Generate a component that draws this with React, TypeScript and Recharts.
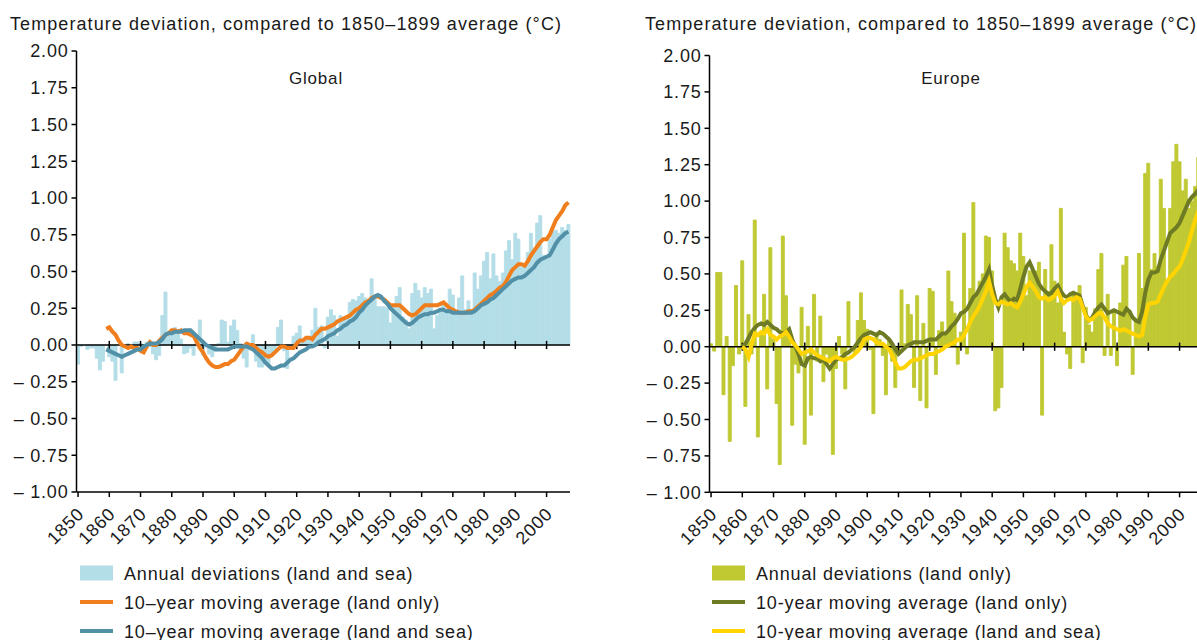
import React from 'react';
import { ComposedChart, Bar, Line, XAxis, YAxis, ReferenceLine } from 'recharts';

// categories: one band per year, 1850-2007
const FIRST_YEAR = 1850;
const LAST_YEAR = 2007;
const years: number[] = [];
for (let y = FIRST_YEAR; y <= LAST_YEAR; y++) years.push(y);

const yTicks = [-1, -0.75, -0.5, -0.25, 0, 0.25, 0.5, 0.75, 1, 1.25, 1.5, 1.75, 2];
const decadeMarks = [1860, 1870, 1880, 1890, 1900, 1910, 1920, 1930, 1940, 1950, 1960, 1970, 1980, 1990, 2000];

// Global, annual deviations (land and sea), 1850-2007
const globalAnnual = [
  -0.13, -0.01, 0.0, -0.03, -0.02, -0.02, -0.09, -0.17, -0.11, 0.0,
  -0.08, -0.11, -0.24, 0.0, -0.19, 0.0, 0.01, -0.01, 0.02, 0.02,
  0.01, -0.01, 0.02, -0.01, -0.06, -0.1, -0.07, 0.2, 0.36, 0.06,
  0.07, 0.12, 0.08, 0.04, -0.06, -0.05, -0.02, -0.07, 0.02, 0.17,
  -0.07, 0.0, -0.06, -0.08, -0.04, 0.01, 0.17, 0.16, 0.02, 0.13,
  0.17, 0.1, 0.01, -0.09, -0.15, 0.01, 0.07, -0.11, -0.15, -0.15,
  -0.12, -0.14, -0.05, -0.05, 0.12, 0.17, -0.04, -0.16, -0.02, 0.06,
  0.08, 0.13, 0.04, 0.05, 0.04, 0.1, 0.25, 0.12, 0.13, -0.02,
  0.19, 0.24, 0.2, 0.06, 0.2, 0.17, 0.19, 0.29, 0.31, 0.3,
  0.33, 0.35, 0.32, 0.31, 0.45, 0.32, 0.26, 0.26, 0.26, 0.25,
  0.15, 0.27, 0.33, 0.39, 0.19, 0.17, 0.11, 0.35, 0.42, 0.37,
  0.32, 0.39, 0.35, 0.38, 0.11, 0.2, 0.25, 0.29, 0.24, 0.38,
  0.34, 0.22, 0.32, 0.47, 0.24, 0.3, 0.21, 0.49, 0.38, 0.47,
  0.57, 0.63, 0.45, 0.62, 0.47, 0.43, 0.49, 0.64, 0.71, 0.58,
  0.76, 0.72, 0.53, 0.54, 0.63, 0.76, 0.66, 0.83, 0.88, 0.61,
  0.59, 0.72, 0.77, 0.78, 0.76, 0.8, 0.78, 0.82,
];

// Global, 10-year moving average (land only), 1859-2007
const globalLandMA = [
  0.11,
  0.12, 0.09, 0.07, 0.03, 0.0, -0.01, -0.02, -0.01, -0.02, -0.02,
  -0.04, -0.05, -0.01, 0.02, 0.0, 0.0, 0.03, 0.05, 0.07, 0.08,
  0.1, 0.1, 0.09, 0.1, 0.08, 0.08, 0.07, 0.06, 0.02, -0.02,
  -0.05, -0.09, -0.12, -0.14, -0.15, -0.15, -0.14, -0.13, -0.13, -0.11,
  -0.1, -0.07, -0.04, -0.01, 0.01, 0.0, 0.0, -0.02, -0.04, -0.05,
  -0.07, -0.08, -0.07, -0.05, -0.03, -0.01, -0.01, -0.02, -0.02, -0.02,
  0.01, 0.03, 0.03, 0.05, 0.05, 0.04, 0.07, 0.09, 0.11, 0.11,
  0.12, 0.13, 0.14, 0.16, 0.17, 0.18, 0.19, 0.2, 0.22, 0.24,
  0.25, 0.27, 0.29, 0.3, 0.32, 0.33, 0.33, 0.32, 0.31, 0.29,
  0.27, 0.27, 0.27, 0.27, 0.25, 0.23, 0.21, 0.2, 0.21, 0.23,
  0.25, 0.27, 0.27, 0.27, 0.27, 0.27, 0.28, 0.29, 0.27, 0.25,
  0.24, 0.23, 0.22, 0.22, 0.22, 0.23, 0.23, 0.24, 0.26, 0.28,
  0.3, 0.32, 0.34, 0.35, 0.37, 0.39, 0.4, 0.43, 0.47, 0.51,
  0.53, 0.55, 0.55, 0.54, 0.57, 0.61, 0.64, 0.67, 0.7, 0.72,
  0.72, 0.75, 0.8, 0.85, 0.88, 0.91, 0.95, 0.97,
];

// Global, 10-year moving average (land and sea), 1859-2007
const globalSeaMA = [
  -0.03,
  -0.04, -0.05, -0.06, -0.07, -0.08, -0.07, -0.06, -0.05, -0.04, -0.03,
  -0.03, -0.01, 0.0, 0.01, 0.01, 0.01, 0.02, 0.04, 0.07, 0.08,
  0.08, 0.09, 0.09, 0.09, 0.1, 0.1, 0.1, 0.08, 0.06, 0.04,
  0.02, 0.0, -0.01, -0.02, -0.03, -0.03, -0.03, -0.03, -0.03, -0.02,
  -0.01, -0.01, -0.01, -0.01, -0.01, -0.02, -0.03, -0.05, -0.07, -0.09,
  -0.12, -0.14, -0.16, -0.16, -0.15, -0.14, -0.14, -0.12, -0.1, -0.09,
  -0.07, -0.05, -0.04, -0.03, -0.01, -0.01, 0.0, 0.02, 0.03, 0.04,
  0.06, 0.07, 0.08, 0.1, 0.11, 0.13, 0.14, 0.16, 0.17, 0.19,
  0.22, 0.24, 0.27, 0.29, 0.31, 0.33, 0.34, 0.33, 0.3, 0.28,
  0.25, 0.23, 0.21, 0.19, 0.17, 0.15, 0.14, 0.15, 0.17, 0.19,
  0.2, 0.21, 0.21, 0.22, 0.22, 0.23, 0.24, 0.24, 0.23, 0.23,
  0.22, 0.22, 0.22, 0.22, 0.22, 0.22, 0.22, 0.23, 0.25, 0.27,
  0.28, 0.29, 0.31, 0.32, 0.34, 0.36, 0.38, 0.4, 0.42, 0.44,
  0.45, 0.46, 0.46, 0.47, 0.49, 0.51, 0.53, 0.56, 0.58, 0.59,
  0.6, 0.61, 0.65, 0.69, 0.72, 0.74, 0.76, 0.77,
];

// Europe, annual deviations (land only), 1850-2007
const europeAnnual = [
  0.02, -0.03, 0.51, 0.51, -0.33, 0.07, -0.65, -0.13, 0.42, -0.05,
  0.59, -0.41, 0.22, -0.05, 0.87, -0.62, 0.1, 0.36, -0.29, 0.68,
  0.05, -0.39, -0.81, 0.76, 0.35, 0.05, -0.54, -0.12, -0.18, 0.27,
  -0.67, 0.14, -0.47, 0.36, -0.1, 0.21, -0.24, -0.05, -0.1, -0.74,
  -0.15, 0.07, -0.05, -0.29, 0.31, -0.02, -0.04, 0.18, 0.37, 0.18,
  0.12, -0.02, -0.46, 0.09, 0.05, -0.06, -0.33, 0.04, -0.1, -0.28,
  -0.05, 0.39, 0.02, 0.29, 0.22, -0.28, 0.35, -0.37, 0.16, -0.42,
  0.4, 0.38, -0.19, 0.11, 0.17, 0.08, 0.52, 0.31, 0.23, -0.12,
  0.1, 0.78, -0.05, 0.4, 0.99, 0.36, 0.45, 0.5, 0.76, 0.75,
  0.52, -0.44, -0.42, -0.28, 0.78, 0.68, 0.59, 0.57, 0.52, 0.78,
  0.62, 0.35, 0.52, 0.52, 0.52, 0.58, -0.47, 0.53, 0.38, 0.7,
  0.45, 0.3, 0.95, 0.1, -0.05, -0.15, 0.36, 0.37, 0.42, -0.11,
  0.27, 0.15, 0.1, 0.26, 0.53, 0.64, -0.06, 0.36, -0.06, 0.24,
  -0.13, 0.3, 0.56, 0.62, 0.25, -0.19, 0.18, 0.64, 0.4, 1.19,
  1.26, 0.53, 0.64, 0.55, 1.15, 0.95, 0.45, 0.95, 1.27, 1.39,
  1.27, 1.07, 1.15, 0.95, 1.0, 1.1, 1.3, 1.25,
];

// Europe, 10-year moving average (land only), 1860-2007
const europeLandMA = [
  0.0, 0.02, 0.06, 0.1, 0.13, 0.15, 0.16, 0.15, 0.17, 0.15,
  0.13, 0.12, 0.1, 0.09, 0.1, 0.12, 0.05, 0.0, -0.05, -0.12,
  -0.13, -0.08, -0.07, -0.08, -0.08, -0.1, -0.09, -0.12, -0.15, -0.12,
  -0.09, -0.08, -0.07, -0.05, -0.04, -0.02, 0.0, 0.03, 0.06, 0.08,
  0.09, 0.1, 0.09, 0.08, 0.1, 0.09, 0.07, 0.05, 0.02, -0.02,
  -0.05, -0.03, -0.01, 0.01, 0.02, 0.03, 0.03, 0.03, 0.03, 0.04,
  0.05, 0.05, 0.05, 0.07, 0.09, 0.09, 0.11, 0.14, 0.16, 0.19,
  0.23, 0.24, 0.26, 0.3, 0.34, 0.36, 0.4, 0.44, 0.48, 0.53,
  0.42, 0.33, 0.27, 0.34, 0.36, 0.33, 0.31, 0.33, 0.32, 0.4,
  0.48, 0.55, 0.58, 0.53, 0.48, 0.43, 0.4, 0.38, 0.36, 0.37,
  0.4, 0.42, 0.38, 0.35, 0.34, 0.36, 0.37, 0.36, 0.35, 0.28,
  0.22, 0.18, 0.2, 0.24, 0.27, 0.29, 0.26, 0.23, 0.24, 0.25,
  0.24, 0.23, 0.22, 0.26, 0.24, 0.2, 0.18, 0.17, 0.24, 0.37,
  0.46, 0.51, 0.51, 0.52, 0.6, 0.66, 0.72, 0.78, 0.8, 0.82,
  0.85, 0.9, 0.95, 1.0, 1.03, 1.05, 1.08, 1.1,
];

// Europe, 10-year moving average (land and sea), 1860-2007
const europeSeaMA = [
  0.0, -0.02, -0.07, 0.02, 0.09, 0.08, 0.1, 0.09, 0.12, 0.08,
  0.07, 0.05, 0.07, 0.08, 0.1, 0.07, 0.03, 0.01, -0.02, -0.05,
  -0.04, -0.03, -0.02, -0.04, -0.06, -0.07, -0.08, -0.09, -0.1, -0.08,
  -0.07, -0.08, -0.09, -0.09, -0.08, -0.07, -0.05, -0.03, 0.0, 0.05,
  0.06, 0.06, 0.05, 0.03, 0.02, 0.02, 0.0, -0.02, -0.06, -0.11,
  -0.15, -0.15, -0.14, -0.12, -0.1, -0.09, -0.09, -0.08, -0.07, -0.06,
  -0.05, -0.05, -0.04, -0.03, -0.02, 0.0, 0.01, 0.02, 0.03, 0.05,
  0.05, 0.08, 0.12, 0.17, 0.21, 0.24, 0.28, 0.33, 0.38, 0.45,
  0.36, 0.3, 0.29, 0.31, 0.3, 0.29, 0.3, 0.28, 0.27, 0.31,
  0.36, 0.41, 0.44, 0.41, 0.38, 0.34, 0.33, 0.34, 0.32, 0.33,
  0.35, 0.38, 0.33, 0.3, 0.32, 0.33, 0.32, 0.34, 0.33, 0.27,
  0.21, 0.18, 0.19, 0.21, 0.23, 0.23, 0.2, 0.16, 0.14, 0.13,
  0.12, 0.11, 0.12, 0.11, 0.1, 0.09, 0.08, 0.07, 0.08, 0.2,
  0.29, 0.3, 0.3, 0.31, 0.36, 0.41, 0.45, 0.48, 0.5, 0.53,
  0.55, 0.6, 0.66, 0.72, 0.8, 0.87, 0.93, 0.98,
];

const FONT = '"Liberation Sans", Arial, Helvetica, sans-serif';
const INK = '#1a1a1a';

type Row = { year: number; annual: number; land: number | null; sea: number | null };

function buildRows(annual: number[], land: number[], sea: number[], maStart: number): Row[] {
  return years.map((year, i) => {
    const k = year - maStart;
    return {
      year,
      annual: annual[i],
      land: k >= 0 && k < land.length ? land[k] : null,
      sea: k >= 0 && k < sea.length ? sea[k] : null,
    };
  });
}

const globalRows = buildRows(globalAnnual, globalLandMA, globalSeaMA, 1859);
const europeRows = buildRows(europeAnnual, europeLandMA, europeSeaMA, 1860);

const fmtY = (v: number) => (v < 0 ? `\u2013 ${Math.abs(v).toFixed(2)}` : v.toFixed(2));

function YearTick(props: any) {
  const { x, y, payload } = props;
  return (
    <text
      transform={`translate(${x + 7},${y + 16}) rotate(-45)`}
      textAnchor="end"
      fontSize={18}
      fill={INK}
      fontFamily={FONT}
      letterSpacing={0.8}
    >
      {payload.value}
    </text>
  );
}

interface PanelProps {
  rows: Row[];
  left: number;
  top: number;
  bottom: number;
  barColor: string;
  landColor: string;
  seaColor: string;
}

function Panel({ rows, left, top, bottom, barColor, landColor, seaColor }: PanelProps) {
  return (
    <div style={{ position: 'absolute', left, top: 0 }}>
      <ComposedChart
        width={600}
        height={560}
        data={rows}
        margin={{ top, right: 30, bottom, left: 16.5 }}
        barCategoryGap={0}
        barGap={0}
      >
        <XAxis
          dataKey="year"
          type="category"
          interval={9}
          height={60}
          tickSize={5}
          tickMargin={2}
          axisLine={{ stroke: '#000', strokeWidth: 1.5 }}
          tickLine={{ stroke: '#000', strokeWidth: 1.5 }}
          tick={(p: any) => <YearTick {...p} />}
        />
        <YAxis
          type="number"
          domain={[-1, 2]}
          ticks={yTicks}
          width={60}
          tickSize={5}
          tickMargin={3}
          interval={0}
          tickFormatter={fmtY}
          axisLine={{ stroke: '#000', strokeWidth: 1.5 }}
          tickLine={{ stroke: '#000', strokeWidth: 1.5 }}
          tick={{ fontSize: 18, fill: INK, fontFamily: FONT, letterSpacing: 0.8 }}
        />
        <Bar dataKey="annual" fill={barColor} stroke={barColor} strokeWidth={0.9} isAnimationActive={false} />
        <ReferenceLine y={0} stroke="#000" strokeWidth={1.5} />
        {decadeMarks.map((d) => (
          <ReferenceLine
            key={d}
            segment={[{ x: d, y: -0.028 }, { x: d, y: 0.028 }]}
            stroke="#000"
            strokeWidth={1.5}
          />
        ))}
        <Line dataKey="land" type="linear" stroke={landColor} strokeWidth={4}
          dot={false} activeDot={false} isAnimationActive={false} />
        <Line dataKey="sea" type="linear" stroke={seaColor} strokeWidth={4}
          dot={false} activeDot={false} isAnimationActive={false} />
      </ComposedChart>
    </div>
  );
}

function LegendRow({ x, y, kind, color, label }: { x: number; y: number; kind: 'bar' | 'line'; color: string; label: string }) {
  return (
    <g>
      {kind === 'bar' ? (
        <rect x={x} y={y - 7.5} width={33} height={15} fill={color} />
      ) : (
        <rect x={x} y={y - 2} width={33} height={4} fill={color} />
      )}
      <text x={x + 44} y={y + 6.5} fontSize={18} fill={INK} fontFamily={FONT} letterSpacing={0.85}>
        {label}
      </text>
    </g>
  );
}

const TITLE = 'Temperature deviation, compared to 1850\u20131899 average (\u00b0C)';

export default function App() {
  return (
    <div
      style={{
        position: 'fixed',
        left: 0,
        top: 0,
        width: 1197,
        height: 640,
        overflow: 'hidden',
        background: '#fff',
        fontFamily: FONT,
      }}
    >
      <Panel rows={globalRows} left={0} top={51} bottom={8} barColor="#b3dee8"
        landColor="#f07e1c" seaColor="#5290a8" />
      <Panel rows={europeRows} left={633} top={55.5} bottom={7.7} barColor="#c0c832"
        landColor="#6e7b24" seaColor="#ffd400" />
      <svg width={1197} height={640} style={{ position: 'absolute', left: 0, top: 0, pointerEvents: 'none' }}>
        <text x={10} y={30} fontSize={18} fill={INK} fontFamily={FONT} letterSpacing={1.08}>{TITLE}</text>
        <text x={645} y={30} fontSize={18} fill={INK} fontFamily={FONT} letterSpacing={1.08}>{TITLE}</text>
        <text x={316} y={84} fontSize={17} fill={INK} fontFamily={FONT} textAnchor="middle" letterSpacing={0.8}>Global</text>
        <text x={951} y={84} fontSize={17} fill={INK} fontFamily={FONT} textAnchor="middle" letterSpacing={0.8}>Europe</text>

        <LegendRow x={80} y={573} kind="bar" color="#b3dee8" label="Annual deviations (land and sea)" />
        <LegendRow x={80} y={602} kind="line" color="#f07e1c" label={'10\u2013year moving average (land only)'} />
        <LegendRow x={80} y={631} kind="line" color="#5290a8" label={'10\u2013year moving average (land and sea)'} />

        <LegendRow x={712} y={573} kind="bar" color="#c0c832" label="Annual deviations (land only)" />
        <LegendRow x={712} y={602} kind="line" color="#6e7b24" label="10-year moving average (land only)" />
        <LegendRow x={712} y={631} kind="line" color="#ffd400" label="10-year moving average (land and sea)" />
      </svg>
    </div>
  );
}
